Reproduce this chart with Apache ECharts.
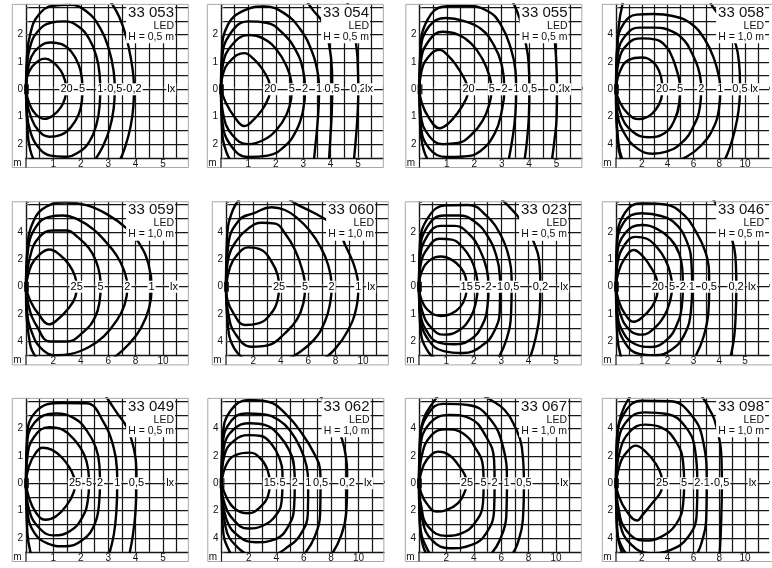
<!DOCTYPE html>
<html><head><meta charset="utf-8">
<script src="https://cdn.jsdelivr.net/npm/echarts@6/dist/echarts.min.js"></script>
<style>html,body{margin:0;padding:0;background:#fff}#c{width:772px;height:568px}</style>
</head><body><div id="c"></div>
<script>
// ---------- DATA ----------
const panelIds = ['33 053','33 054','33 055','33 058','33 059','33 060','33 023','33 046','33 049','33 062','33 067','33 098'];
const panelH   = ['0,5','0,5','0,5','1,0','1,0','1,0','0,5','0,5','0,5','1,0','1,0','1,0'];

const curves33053 = [
 [[0,0],[0.04,0.45],[0.22,0.82],[0.5,1.07],[0.7,1.12],[1.0,0.98],[1.27,0.68],[1.43,0.3],[1.47,0],[1.43,-0.3],[1.27,-0.66],[0.98,-0.96],[0.68,-1.08],[0.36,-0.92],[0.12,-0.52],[0,0]],
 [[0,0],[0.05,0.62],[0.2,1.2],[0.5,1.56],[0.9,1.71],[1.3,1.65],[1.65,1.38],[1.92,0.9],[2.04,0.4],[2.06,0],[2.04,-0.42],[1.92,-0.92],[1.64,-1.38],[1.25,-1.67],[0.85,-1.73],[0.45,-1.5],[0.17,-0.98],[0.03,-0.42],[0,0]],
 [[0,0],[0.03,0.8],[0.15,1.55],[0.42,2.1],[0.9,2.43],[1.4,2.48],[1.9,2.3],[2.3,1.85],[2.57,1.2],[2.69,0.5],[2.71,0],[2.69,-0.55],[2.58,-1.25],[2.32,-1.9],[1.92,-2.3],[1.4,-2.46],[0.9,-2.42],[0.42,-2.08],[0.15,-1.52],[0.03,-0.8],[0,0]],
 [[0.45,-2.9],[0.15,-2.2],[0.04,-1.2],[0,0],[0.03,1.1],[0.15,2.0],[0.45,2.7],[1.0,3.05],[1.6,3.08],[2.2,2.85],[2.7,2.25],[3.03,1.45],[3.2,0.65],[3.24,0],[3.2,-0.7],[3.05,-1.45],[2.8,-2.1],[2.5,-2.6]],
 [[3.05,3.25],[3.4,2.65],[3.66,1.9],[3.84,1.05],[3.93,0.35],[3.94,0],[3.92,-0.6],[3.82,-1.35],[3.62,-2.1],[3.4,-2.65]]
];
const labels33053 = [['20',1.48],['5',2.05],['1',2.71],['0,5',3.24],['0,2',3.94],['lx',5.3]];

const curves33054 = [
 [[0,0],[0.07,0.55],[0.35,1.05],[0.85,1.32],[1.2,1.1],[1.52,0.72],[1.74,0.32],[1.79,0],[1.74,-0.3],[1.5,-0.75],[1.13,-1.17],[0.85,-1.34],[0.5,-1.02],[0.18,-0.5],[0,0]],
 [[0,0],[0.07,0.9],[0.4,1.62],[1.0,1.98],[1.55,1.85],[2.05,1.42],[2.4,0.82],[2.56,0.3],[2.58,0],[2.56,-0.35],[2.4,-0.9],[2.05,-1.45],[1.55,-1.85],[1.0,-2.0],[0.42,-1.68],[0.08,-0.9],[0,0]],
 [[0,0],[0.04,1.1],[0.33,2.02],[1.0,2.48],[1.65,2.43],[2.25,2.05],[2.73,1.42],[2.99,0.72],[3.07,0],[3.0,-0.75],[2.75,-1.5],[2.3,-2.1],[1.7,-2.42],[1.0,-2.47],[0.38,-2.08],[0.05,-1.15],[0,0]],
 [[0.6,-2.9],[0.2,-2.3],[0.03,-1.3],[0,0],[0.03,1.3],[0.25,2.35],[0.85,2.88],[1.6,3.02],[2.3,2.78],[2.9,2.18],[3.33,1.35],[3.54,0.55],[3.58,0],[3.56,-0.7],[3.5,-1.5],[3.44,-2.1],[3.38,-2.7]],
 [[3.1,3.25],[3.35,2.9],[3.73,2.4],[3.95,1.6],[4.05,0.7],[4.06,0],[4.04,-0.9],[3.99,-1.8],[3.94,-2.6]],
 [[4.6,3.2],[4.8,2.4],[4.95,1.5],[5.0,0.6],[5.01,0],[4.99,-0.8],[4.93,-1.7],[4.85,-2.6]]
];
const labels33054 = [['20',1.8],['5',2.58],['2',3.07],['1',3.58],['0,5',4.06],['0,2',5.01],['lx',5.4]];

const curves33055 = [
 [[0,0],[0.06,0.6],[0.3,1.15],[0.73,1.44],[1.05,1.22],[1.35,0.86],[1.62,0.42],[1.76,0.1],[1.79,0],[1.7,-0.35],[1.4,-0.85],[1.05,-1.25],[0.73,-1.42],[0.35,-1.05],[0.08,-0.5],[0,0]],
 [[0,0],[0.05,1.0],[0.35,1.78],[0.85,2.1],[1.4,2.0],[1.9,1.66],[2.3,1.1],[2.55,0.5],[2.63,0],[2.55,-0.55],[2.3,-1.15],[1.9,-1.65],[1.4,-1.96],[0.85,-2.0],[0.35,-1.7],[0.05,-0.95],[0,0]],
 [[0,0],[0.04,1.35],[0.35,2.3],[0.97,2.6],[1.6,2.5],[2.25,2.2],[2.72,1.6],[3.0,0.9],[3.1,0],[3.0,-0.8],[2.75,-1.6],[2.2,-2.27],[1.6,-2.45],[1.0,-2.47],[0.35,-2.15],[0.05,-1.3],[0,0]],
 [[0.5,-2.9],[0.15,-2.2],[0.02,-1.2],[0,0],[0.03,1.4],[0.3,2.55],[0.9,3.02],[1.6,3.05],[2.5,2.85],[3.0,2.3],[3.33,1.5],[3.5,0.7],[3.53,0],[3.5,-0.9],[3.4,-1.75],[3.25,-2.6]],
 [[3.4,3.2],[3.65,2.6],[3.85,1.8],[3.98,1.0],[4.01,0],[3.99,-1.0],[3.92,-1.9],[3.83,-2.6]],
 [[4.75,2.6],[4.9,2.0],[4.98,1.2],[5.02,0],[5.0,-1.1],[4.92,-1.9],[4.83,-2.6]]
];
const labels33055 = [['20',1.79],['5',2.64],['2',3.1],['1',3.53],['0,5',4.01],['0,2',5.02],['lx',5.35]];

const curves33058 = [
 [[0,0],[0.3,1.3],[1.0,2.15],[2.0,2.32],[2.85,2.0],[3.35,1.3],[3.56,0.5],[3.58,0],[3.5,-0.7],[3.1,-1.45],[2.5,-1.98],[1.75,-2.18],[0.9,-1.75],[0.25,-0.85],[0,0]],
 [[0,0],[0.2,2.0],[0.9,3.3],[2.0,3.72],[3.1,3.62],[3.9,3.1],[4.35,2.35],[4.7,1.4],[4.93,0.5],[4.96,0],[4.9,-1.0],[4.5,-2.3],[3.75,-3.2],[2.5,-3.5],[1.3,-3.1],[0.4,-1.9],[0,0]],
 [[0,0],[0.15,2.6],[0.8,4.0],[1.8,4.5],[3.0,4.5],[4.3,4.25],[5.3,3.55],[5.9,2.6],[6.35,1.6],[6.57,0.6],[6.6,0],[6.5,-1.3],[6.0,-2.7],[5.1,-3.9],[3.9,-4.55],[2.8,-4.7],[1.7,-4.35],[0.7,-3.3],[0.1,-1.7],[0,0]],
 [[0.8,-5.8],[0.2,-4.0],[0,0],[0.1,3.3],[0.6,4.8],[1.6,5.45],[2.9,5.5],[4.4,5.35],[5.8,4.8],[6.9,3.6],[7.6,2.2],[8.0,0.8],[8.08,0],[7.98,-1.4],[7.5,-2.9],[6.6,-4.1],[5.5,-4.9],[4.3,-5.3]],
 [[0.7,-5.8],[0.15,-4.0],[0,0],[0.2,4.5],[0.6,6.6]],
 [[7.3,6.3],[7.9,5.5],[8.7,4.5],[9.3,3.2],[9.55,1.7],[9.6,0.6],[9.6,0],[9.5,-1.5],[9.2,-3.0],[8.8,-4.3],[8.4,-5.2]]
];
const labels33058 = [['20',3.58],['5',4.96],['2',6.6],['1',8.08],['0,5',9.6],['lx',10.7]];

const curves33059 = [
 [[0,0],[0.4,1.6],[1.05,2.4],[1.7,2.72],[2.5,2.3],[3.15,1.6],[3.58,0.75],[3.7,0],[3.6,-0.75],[3.0,-1.7],[2.25,-2.45],[1.7,-2.75],[0.95,-2.05],[0.3,-1.0],[0,0]],
 [[0,0],[0.3,2.2],[0.95,3.6],[1.95,4.1],[2.95,4.1],[3.8,3.6],[4.6,2.8],[5.1,1.9],[5.38,0.9],[5.45,0],[5.38,-1.0],[5.05,-2.2],[4.2,-3.3],[2.95,-4.0],[1.75,-4.0],[0.8,-2.9],[0.2,-1.45],[0,0]],
 [[0,0],[0.15,2.7],[0.75,4.4],[1.7,5.1],[2.7,5.2],[3.8,4.9],[4.9,4.2],[5.8,3.3],[6.6,2.3],[7.15,1.2],[7.4,0],[7.2,-1.3],[6.6,-2.5],[5.7,-3.6],[4.6,-4.4],[3.3,-4.9],[2.2,-5.0],[1.2,-4.6],[0.45,-3.4],[0.08,-1.8],[0,0]],
 [[1.5,-6],[0.3,-4.2],[0,0],[0.1,2.8],[0.55,4.8],[1.5,5.85],[2.9,6.15],[4.4,5.95],[5.9,5.3],[7.3,4.3],[8.3,3.1],[8.95,1.6],[9.17,0],[9.0,-1.5],[8.4,-3.0],[7.5,-4.2],[6.4,-5.2]]
];
const labels33059 = [['25',3.7],['5',5.45],['2',7.4],['1',9.17],['lx',10.8]];

const curves33060 = [
 [[0,0],[0.3,1.45],[0.8,2.3],[1.63,2.87],[2.6,2.68],[3.33,1.82],[3.77,0.85],[3.87,0],[3.77,-0.95],[3.2,-2.07],[2.36,-2.68],[1.39,-2.8],[0.55,-1.95],[0.1,-0.95],[0,0]],
 [[0,0],[0.2,2.2],[0.8,3.4],[1.63,4.25],[2.6,4.67],[3.6,4.6],[4.3,3.9],[5.04,2.68],[5.57,1.22],[5.77,0],[5.65,-1.2],[5.16,-2.43],[4.3,-3.4],[3.1,-4.26],[1.87,-4.38],[0.66,-3.41],[0.17,-1.95],[0,0]],
 [[0,0],[0.17,3.1],[1.0,4.9],[2.0,5.35],[3.33,5.8],[4.3,5.6],[5.2,5.0],[6.1,4.1],[6.9,2.9],[7.45,1.6],[7.71,0],[7.6,-1.2],[7.2,-2.6],[6.4,-3.9],[5.2,-4.9],[4.2,-5.4]],
 [[1.8,-5.6],[0.6,-4.5],[0.12,-2.6],[0,0],[0.08,3.6],[0.5,5.6],[1.2,6.6]],
 [[4.5,6.5],[5.04,6.08],[6.4,5.4],[7.7,4.62],[8.3,3.9],[8.7,3.04],[9.3,1.7],[9.6,0.6],[9.66,0],[9.5,-1.6],[8.9,-3.2],[8.0,-4.5],[7.0,-5.4]]
];
const labels33060 = [['25',3.87],['5',5.77],['2',7.71],['1',9.66],['lx',10.6]];

const curves33023 = [
 [[0,0],[0.1,0.55],[0.4,0.97],[0.8,1.1],[1.2,0.98],[1.52,0.7],[1.7,0.35],[1.74,0],[1.7,-0.35],[1.5,-0.75],[1.15,-1.0],[0.8,-1.07],[0.4,-0.92],[0.1,-0.5],[0,0]],
 [[0,0],[0.06,0.8],[0.35,1.45],[0.75,1.75],[1.2,1.72],[1.6,1.43],[1.9,1.0],[2.08,0.5],[2.14,0],[2.08,-0.55],[1.88,-1.12],[1.45,-1.6],[0.9,-1.75],[0.45,-1.5],[0.12,-0.9],[0,0]],
 [[0,0],[0.04,1.0],[0.3,1.85],[0.8,2.22],[1.3,2.22],[1.8,1.95],[2.22,1.35],[2.47,0.65],[2.54,0],[2.5,-0.7],[2.3,-1.42],[1.85,-1.95],[1.25,-2.1],[0.7,-2.03],[0.3,-1.65],[0.05,-0.95],[0,0]],
 [[0,0],[0.03,1.2],[0.3,2.18],[0.9,2.6],[1.45,2.6],[2.0,2.4],[2.5,1.85],[2.83,1.1],[2.95,0.4],[2.96,0],[2.95,-0.8],[2.75,-1.62],[2.3,-2.15],[1.6,-2.42],[0.9,-2.35],[0.35,-1.95],[0.05,-1.1],[0,0]],
 [[0.8,-2.7],[0.35,-2.4],[0.05,-1.5],[0,0],[0.03,1.5],[0.35,2.55],[1.0,2.97],[1.8,2.98],[2.45,2.6],[3.0,1.85],[3.3,1.0],[3.38,0.3],[3.38,0],[3.36,-1.0],[3.2,-1.9],[2.9,-2.6]],
 [[3.0,3.2],[3.45,2.75],[3.85,2.25],[4.2,1.6],[4.4,0.8],[4.43,0],[4.4,-1.0],[4.25,-1.9],[4.05,-2.6]]
];
const labels33023 = [['15',1.74],['5',2.14],['2',2.54],['1',2.96],['0,5',3.38],['0,2',4.43],['lx',5.3]];

const curves33046 = [
 [[0,0],[0.1,0.55],[0.35,1.05],[0.69,1.34],[1.0,1.15],[1.3,0.78],[1.55,0.35],[1.62,0],[1.58,-0.35],[1.38,-0.75],[1.0,-1.13],[0.69,-1.28],[0.35,-1.0],[0.1,-0.5],[0,0]],
 [[0,0],[0.06,0.85],[0.35,1.55],[0.75,1.82],[1.2,1.75],[1.6,1.42],[1.9,1.0],[2.1,0.5],[2.17,0],[2.1,-0.5],[1.88,-1.05],[1.5,-1.5],[1.0,-1.75],[0.55,-1.6],[0.15,-0.95],[0,0]],
 [[0,0],[0.04,1.1],[0.35,1.95],[1.0,2.25],[1.6,2.1],[2.1,1.75],[2.45,1.2],[2.57,0.6],[2.59,0],[2.55,-0.7],[2.35,-1.4],[1.95,-1.95],[1.35,-2.2],[0.75,-2.1],[0.3,-1.7],[0.05,-0.95],[0,0]],
 [[0,0],[0.03,1.3],[0.3,2.35],[1.0,2.68],[1.75,2.58],[2.3,2.3],[2.72,1.7],[2.92,0.9],[2.95,0],[2.9,-0.9],[2.65,-1.75],[2.15,-2.3],[1.5,-2.5],[0.9,-2.45],[0.35,-2.05],[0.05,-1.15],[0,0]],
 [[0.3,-2.9],[0.05,-1.8],[0,0],[0.03,1.6],[0.35,2.7],[1.0,3.05],[1.9,3.0],[2.65,2.6],[3.1,2.0],[3.45,1.3],[3.6,0.6],[3.61,0],[3.58,-0.9],[3.4,-1.8],[3.1,-2.5]],
 [[3.75,3.2],[3.95,2.9],[4.3,2.2],[4.58,1.4],[4.65,0.6],[4.66,0],[4.64,-0.9],[4.58,-1.8],[4.45,-2.5]]
];
const labels33046 = [['20',1.62],['5',2.17],['2',2.59],['1',2.94],['0,5',3.61],['0,2',4.65],['lx',5.27]];

const curves33049 = [
 [[0,0],[0.1,0.6],[0.35,1.1],[0.6,1.3],[0.95,1.22],[1.3,0.95],[1.6,0.55],[1.76,0.2],[1.79,0],[1.75,-0.3],[1.5,-0.78],[1.1,-1.2],[0.7,-1.33],[0.35,-1.05],[0.1,-0.5],[0,0]],
 [[0,0],[0.05,0.95],[0.3,1.7],[0.85,2.05],[1.35,1.95],[1.8,1.55],[2.12,1.05],[2.27,0.5],[2.3,0],[2.26,-0.6],[2.05,-1.25],[1.6,-1.75],[1.0,-1.9],[0.5,-1.65],[0.12,-1.0],[0,0]],
 [[0,0],[0.03,1.25],[0.3,2.2],[1.1,2.55],[1.75,2.38],[2.2,1.95],[2.55,1.3],[2.68,0.65],[2.7,0],[2.67,-0.7],[2.5,-1.5],[2.05,-2.08],[1.4,-2.3],[0.8,-2.2],[0.3,-1.8],[0.05,-1.0],[0,0]],
 [[0.3,-3.0],[0.05,-1.8],[0,0],[0.03,1.5],[0.35,2.6],[1.3,2.93],[2.2,2.92],[2.85,2.2],[3.2,1.3],[3.32,0.5],[3.33,0],[3.3,-1.0],[3.2,-1.9],[3.0,-2.7]],
 [[2.9,3.2],[3.3,2.6],[3.7,2.0],[3.95,1.2],[4.03,0.5],[4.03,0],[4.0,-1.0],[3.9,-1.9],[3.75,-2.7]]
];
const labels33049 = [['25',1.79],['5',2.3],['2',2.7],['1',3.33],['0,5',4.03],['lx',5.26]];

const curves33062 = [
 [[0,0],[0.35,1.35],[1.0,2.05],[2.07,2.24],[2.9,1.75],[3.35,1.0],[3.53,0],[3.4,-0.9],[2.8,-1.75],[1.95,-2.19],[1.1,-1.95],[0.4,-1.1],[0,0]],
 [[0,0],[0.2,2.0],[0.9,3.1],[2.0,3.52],[2.9,3.45],[3.7,2.8],[4.2,1.9],[4.45,0.8],[4.45,0],[4.4,-1.2],[4.0,-2.3],[3.0,-3.1],[1.95,-3.3],[0.9,-2.7],[0.2,-1.4],[0,0]],
 [[0,0],[0.15,2.5],[0.9,3.95],[2.1,4.38],[3.2,4.25],[4.2,3.5],[4.95,2.4],[5.3,1.2],[5.35,0],[5.3,-1.7],[4.9,-3.1],[3.9,-4.1],[2.5,-4.3],[1.3,-3.9],[0.35,-2.6],[0,0]],
 [[0,0],[0.1,2.9],[0.7,4.55],[1.8,5.1],[3.0,5.05],[4.2,4.6],[5.0,3.85],[5.75,2.6],[6.2,1.3],[6.33,0],[6.3,-2.2],[5.85,-3.6],[4.9,-4.6],[3.6,-5.2],[2.3,-5.2],[1.1,-4.6],[0.3,-3.2],[0,0]],
 [[1.2,-5.6],[0.6,-5.0],[0.1,-3.3],[0,0],[0.1,3.5],[0.7,5.35],[2.0,6.08],[3.4,5.95],[4.75,5.0],[5.9,3.6],[6.75,2.2],[7.2,1.0],[7.23,0],[7.2,-2.2],[6.8,-3.9],[6.1,-5.1]],
 [[7.1,6.5],[7.6,5.8],[8.2,4.6],[8.8,3.2],[9.1,1.8],[9.17,0.8],[9.17,0],[9.1,-2.2],[8.7,-3.9],[8.1,-5.1]]
];
const labels33062 = [['15',3.53],['5',4.45],['2',5.35],['1',6.33],['0,5',7.23],['0,2',9.17],['lx',10.7]];

const curves33067 = [
 [[0,0],[0.35,1.35],[0.9,2.1],[1.39,2.31],[2.2,2.07],[2.9,1.3],[3.35,0.6],[3.5,0],[3.35,-0.6],[2.85,-1.45],[2.0,-1.95],[1.27,-2.07],[0.55,-1.45],[0.17,-0.73],[0,0]],
 [[0,0],[0.2,2.0],[0.9,3.5],[2.0,3.94],[3.2,3.65],[4.2,2.44],[4.67,1.22],[4.72,0],[4.67,-1.46],[4.06,-2.92],[3.1,-3.65],[2.0,-3.84],[0.66,-3.16],[0.15,-1.6],[0,0]],
 [[0,0],[0.1,2.6],[0.8,4.4],[2.24,4.99],[3.7,4.75],[4.9,3.4],[5.48,1.7],[5.52,0],[5.48,-1.95],[4.9,-3.65],[3.84,-4.5],[2.24,-4.74],[1.0,-4.2],[0.25,-2.7],[0,0]],
 [[1.3,-5.6],[0.6,-4.8],[0.08,-3.0],[0,0],[0.08,3.2],[0.7,5.1],[1.75,5.8],[3.57,5.72],[5.04,4.87],[6.13,2.68],[6.42,0],[6.37,-2.43],[5.9,-4.14],[5.3,-5.11]],
 [[0.8,-5.5],[0.3,-4.6],[0.05,-2.8],[0,0],[0.05,2.7],[0.3,4.6],[1.15,6.07],[1.5,6.5]],
 [[4.5,6.5],[5.04,6.2],[6.25,5.35],[7.0,4.14],[7.5,2.68],[7.66,0],[7.58,-2.68],[7.2,-4.38],[6.85,-5.1]]
];
const labels33067 = [['25',3.5],['5',4.72],['2',5.52],['1',6.4],['0,5',7.66],['lx',10.6]];

const curves33098 = [
 [[0,0],[0.4,1.65],[1.0,2.45],[1.5,2.75],[2.35,2.25],[3.1,1.4],[3.5,0.6],[3.58,0],[3.5,-0.55],[2.85,-1.4],[2.1,-2.25],[1.63,-2.72],[0.8,-2.0],[0.17,-0.82],[0,0]],
 [[0,0],[0.3,2.35],[1.1,3.8],[2.24,4.28],[3.45,4.1],[4.67,3.0],[5.2,1.5],[5.28,0],[5.2,-1.5],[4.67,-2.96],[3.45,-3.93],[2.24,-4.18],[0.8,-3.45],[0.15,-1.6],[0,0]],
 [[0,0],[0.15,2.8],[0.9,4.6],[2.24,5.18],[3.95,5.06],[5.4,4.1],[6.13,2.4],[6.3,0],[6.25,-2.24],[5.6,-3.9],[4.2,-4.87],[2.7,-5.1],[1.2,-4.5],[0.3,-2.9],[0,0]],
 [[1.5,-5.6],[0.6,-4.9],[0.08,-3.2],[0,0],[0.08,3.2],[0.7,5.2],[2.0,6.03],[4.2,5.99],[5.77,5.06],[6.74,3.11],[7.03,0],[6.98,-2.73],[6.6,-4.43],[6.25,-5.2]],
 [[1.0,-5.6],[0.4,-4.9],[0.05,-2.8],[0,0],[0.05,2.8],[0.4,5.0],[1.2,6.5]],
 [[6.6,6.4],[6.9,6.0],[7.23,5.4],[7.6,4.7],[8.07,2.9],[8.18,1.4],[8.2,0],[8.15,-2.7],[8.03,-5.2]]
];
const labels33098 = [['25',3.58],['5',5.28],['2',6.3],['1',7.03],['0,5',8.18],['lx',10.58]];

const panelCurves = [curves33053,curves33054,curves33055,curves33058,curves33059,curves33060,curves33023,curves33046,curves33049,curves33062,curves33067,curves33098];
const panelLabels = [labels33053,labels33054,labels33055,labels33058,labels33059,labels33060,labels33023,labels33046,labels33049,labels33062,labels33067,labels33098];

// ---------- LAYOUT ----------
const FS = "'Liberation Sans',Arial,Helvetica,sans-serif";
const PX = 13.7;                       // pixels per grid cell
const panelX0 = [26,221,419.5,616, 26,226,419,616, 26,221.5,419,616];
const rowY0 = [89.3,286.7,483.3];
const W = 772;

const grids=[], xAxes=[], yAxes=[], series=[], titles=[], graphics=[];
const GRID='#161616', FRAME='#a8a8a8', TXT='#111';
function near(v,s){return Math.abs(v/s-Math.round(v/s))<1e-6;}

panelIds.forEach((id,i)=>{
  const u = panelH[i]==='0,5' ? 0.5 : 1;
  const x0 = panelX0[i], y0 = rowY0[Math.floor(i/4)];
  const top = y0 - 6.2*PX;
  grids.push({left:x0, top:top, width:11.85*PX, height:11.2*PX});
  const xmax = 11.85*u, ymin = -5*u, ymax = 6.2*u;
  const xi = xAxes.length, yi = yAxes.length;
  xAxes.push({gridIndex:i, type:'value', min:0, max:xmax, interval:u,
    axisLine:{show:true,onZero:false,lineStyle:{color:GRID,width:1.4}},
    axisTick:{show:false},
    splitLine:{show:true,showMinLine:false,showMaxLine:false,lineStyle:{color:GRID,width:1.25}},
    axisLabel:{show:true,margin:1,fontSize:10,fontFamily:FS,color:TXT,
      formatter:v=>(v>0 && v<=10*u+1e-6 && near(v,2*u)) ? String(Math.round(v)) : ''}});
  xAxes.push({gridIndex:i, type:'value', min:0, max:xmax, interval:u, position:'bottom', offset:9.7,
    axisLine:{show:false}, axisTick:{show:true,inside:true,length:2.5,lineStyle:{color:'#555'}},
    axisLabel:{show:false}, splitLine:{show:false}});
  yAxes.push({gridIndex:i, type:'value', min:ymin, max:ymax, interval:u,
    axisLine:{show:true,onZero:false,lineStyle:{color:GRID,width:1.4}},
    axisTick:{show:false},
    splitLine:{show:true,showMinLine:false,showMaxLine:false,lineStyle:{color:GRID,width:1.25}},
    axisLabel:{show:true,margin:3,fontSize:10,fontFamily:FS,color:TXT,
      formatter:v=>(Math.abs(v)<=4*u+1e-6 && near(v,2*u)) ? String(Math.round(Math.abs(v))) : ''}});
  yAxes.push({gridIndex:i, type:'value', min:ymin, max:ymax, interval:u, position:'left', offset:PX,
    axisLine:{show:false}, axisTick:{show:true,inside:true,length:3,lineStyle:{color:'#555'}},
    axisLabel:{show:false}, splitLine:{show:false}});

  panelCurves[i].forEach(c=>{
    series.push({type:'line', xAxisIndex:xi, yAxisIndex:yi, data:c, smooth:0.45, symbol:'none',
      lineStyle:{color:'#000',width:2.4}, clip:true, z:3, silent:true});
  });
  series.push({type:'scatter', xAxisIndex:xi, yAxisIndex:yi, data:[[0,0]], symbol:'rect',
    symbolSize:[5,10], symbolOffset:[0.5,0], itemStyle:{color:'#000'}, z:4, silent:true});
  series.push({type:'scatter', xAxisIndex:xi, yAxisIndex:yi,
    data:panelLabels[i].map(l=>({name:l[0], value:[l[1],0]})),
    symbol:'circle', symbolSize:1, itemStyle:{color:'#fff', opacity:1}, z:5, silent:true,
    label:{show:true, position:'inside', formatter:'{b}',
      color:'#000', fontSize:11, fontFamily:FS, fontWeight:'normal',
      textBorderWidth:0, textBorderColor:'transparent',
      backgroundColor:'#fff', padding:[1,1,0,1]}});

  titles.push({text:'{n|'+id+'}\n{l|LED}\n{l|H = '+panelH[i]+' m}',
    right: W-(x0+149), top: top, padding:[0,1,1,2], backgroundColor:'#fff', z:6,
    textStyle:{fontWeight:'normal', rich:{
      n:{fontSize:15,fontFamily:FS,fontWeight:'normal',lineHeight:16,align:'right',color:TXT},
      l:{fontSize:10.5,fontFamily:FS,fontWeight:'normal',lineHeight:11,align:'right',color:TXT}}}});

  const fb = y0 + 5*PX + 9.7;
  graphics.push({type:'rect', shape:{x:x0-PX, y:top, width:12.85*PX, height:fb-top},
    style:{fill:null, stroke:FRAME, lineWidth:1}, z:10, silent:true});
  graphics.push({type:'line', shape:{x1:x0, y1:y0+5*PX, x2:x0, y2:fb},
    style:{stroke:GRID, lineWidth:1.2}, z:10, silent:true});
  graphics.push({type:'text', x:x0-8.5, y:y0+5*PX+5.2, style:{text:'m', fontSize:10, fontFamily:FS,
    fill:TXT, textAlign:'center', textVerticalAlign:'middle'}, z:10, silent:true});
});

const chart = echarts.init(document.getElementById('c'), null, {renderer:'canvas'});
chart.setOption({animation:false, backgroundColor:'#fff', title:titles, grid:grids,
  xAxis:xAxes, yAxis:yAxes, series:series, graphic:graphics});
</script></body></html>
